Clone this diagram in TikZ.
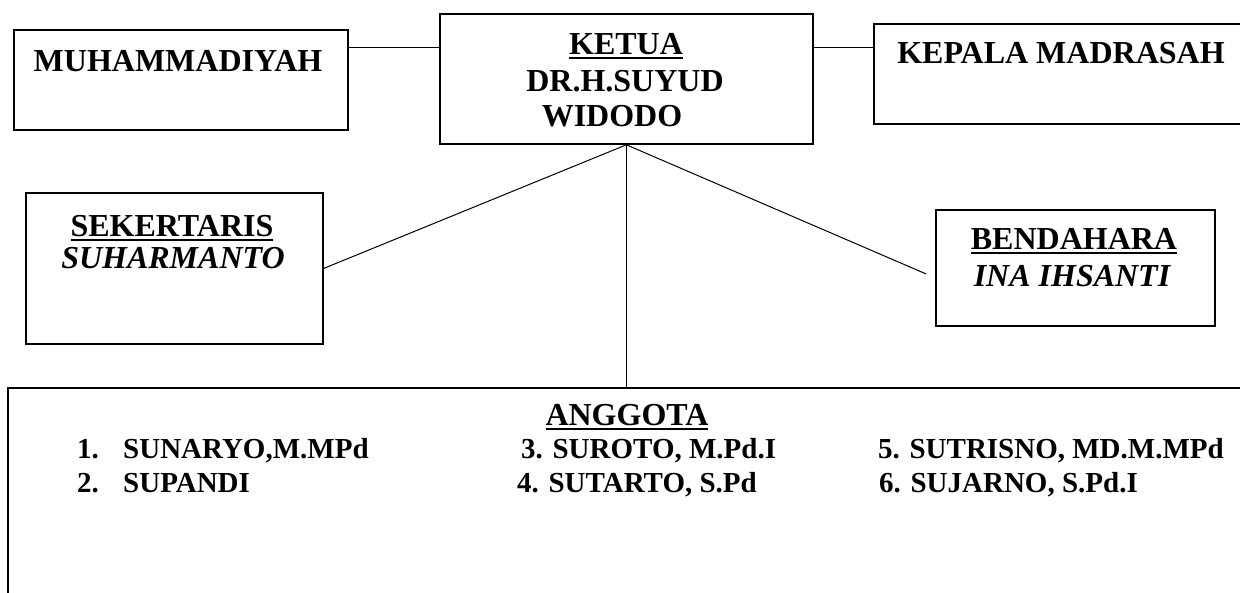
\documentclass[tikz,border=0pt]{standalone}
\usepackage{fontspec}
\setmainfont{Liberation Serif}
\newcommand\myul[1]{\vtop{\hbox{#1}\kern2.5pt\hrule height 2.6pt}}
\begin{document}
\begin{tikzpicture}[x=1pt,y=-1pt,
  box/.style={draw,line width=1.8pt,rectangle,anchor=north west,inner sep=0pt},
  conn/.style={line width=1pt},
  head/.style={font=\fontsize{32}{38}\selectfont\bfseries,inner sep=0pt,anchor=base},
  mem/.style={font=\fontsize{29}{34}\selectfont\bfseries,inner sep=0pt,anchor=base west}]
\useasboundingbox (0,0) rectangle (1240,592);
\clip (0,0) rectangle (1240,592);
\fill[white] (0,0) rectangle (1240,592);
% boxes
\node[box,minimum width=334pt,minimum height=100pt] (muh) at (13,29) {};
\node[box,minimum width=373pt,minimum height=130pt] (ketua) at (439,13) {};
\node[box,minimum width=400pt,minimum height=100pt] (kep) at (873,23) {};
\node[box,minimum width=297pt,minimum height=151pt] (sek) at (25,192) {};
\node[box,minimum width=279pt,minimum height=116pt] (bend) at (935,209) {};
\node[box,minimum width=1260pt,minimum height=260pt] (angg) at (7,387) {};
% connectors
\coordinate (lvl) at (0,47);
\draw[conn] (muh.east |- lvl) -- (ketua.west |- lvl);
\draw[conn] (ketua.east |- lvl) -- (kep.west |- lvl);
\draw[conn] (sek.east) -- (ketua.south);
\draw[conn] (ketua.south) -- ([xshift=-9pt,yshift=-6pt]bend.west);
\draw[conn] (ketua.south) -- (ketua.south |- angg.north);
% texts
\node[head] (tmuh) at (178,71) {MUHAMMADIYAH};
\node[head] (tket1) at (626,54) {\myul{KETUA}};
\node[head] (tket2) at (625,91) {DR.H.SUYUD};
\node[head] (tket3) at (612,126) {WIDODO};
\node[head] (tkep) at (1061,63) {KEPALA MADRASAH};
\node[head] (tsek1) at (172,236) {\myul{SEKERTARIS}};
\node[head] (tsek2) at (173,268) {\itshape SUHARMANTO};
\node[head] (tbend1) at (1074,249) {\myul{BENDAHARA}};
\node[head] (tbend2) at (1072,286) {\itshape INA IHSANTI};
\node[head] (tangg) at (627,425) {\myul{ANGGOTA}};
\node[mem] (n1) at (77,458) {1.};
\node[mem] (m1) at (123,458) {SUNARYO,M.MPd};
\node[mem] (n2) at (77,492) {2.};
\node[mem] (m2) at (123,492) {SUPANDI};
\node[mem] (m3) at (521,458) {3. SUROTO, M.Pd.I};
\node[mem] (m4) at (517,492) {4. SUTARTO, S.Pd};
\node[mem] (m5) at (878,458) {5. SUTRISNO, MD.M.MPd};
\node[mem] (m6) at (879,492) {6. SUJARNO, S.Pd.I};
\end{tikzpicture}
\end{document}
